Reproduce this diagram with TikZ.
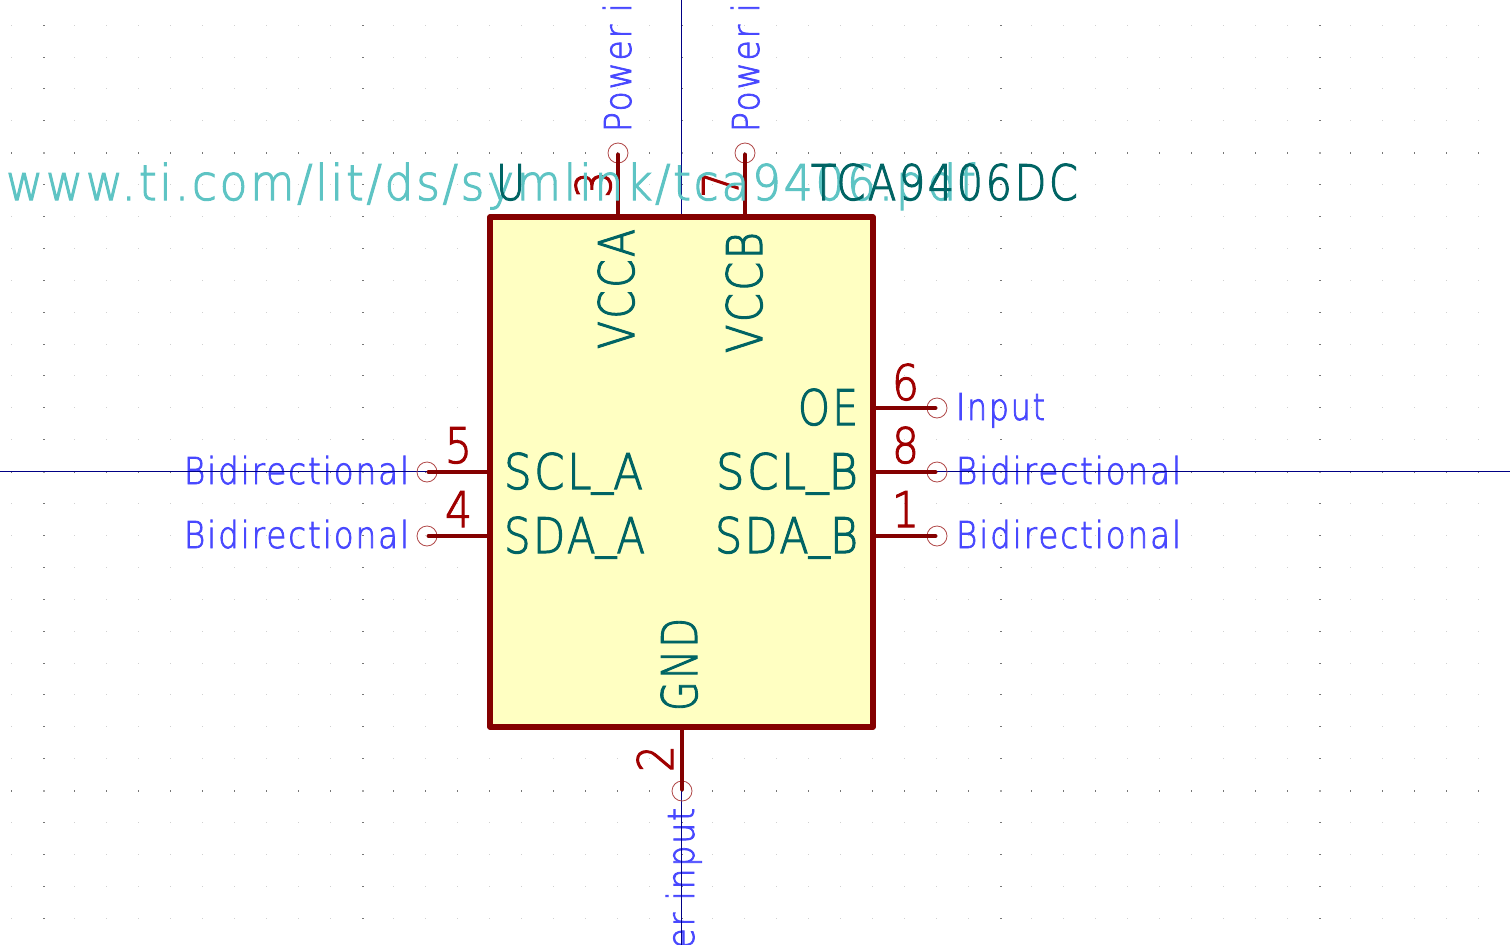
\documentclass[tikz,border=0pt]{standalone}
\usepackage{fontspec}
\usepackage{graphicx}
\newfontfamily\kf[FakeBold=2.2,LetterSpace=6]{DejaVu Sans ExtraLight}
\definecolor{pinred}{HTML}{840000}
\definecolor{numred}{HTML}{A00000}
\definecolor{endred}{HTML}{B04848}
\definecolor{boxfill}{HTML}{FFFFC2}
\definecolor{teal}{HTML}{006464}
\definecolor{urlteal}{HTML}{5EC4C4}
\definecolor{elec}{HTML}{4848FF}
\definecolor{axis}{HTML}{000084}
\definecolor{griddot}{HTML}{D0D0D0}
\definecolor{gridmajor}{HTML}{777777}
\newcommand\fitw[2]{\resizebox{#1pt}{\height}{#2}}
\newcommand\us{\raisebox{6pt}{\_}}
\tikzset{
  txt/.style={inner sep=0pt,outer sep=0pt,anchor=base west,font=\kf},
  big/.style={txt,font=\kf\fontsize{49}{49}\selectfont,text=teal},
  numb/.style={txt,font=\kf\fontsize{49}{49}\selectfont,text=numred},
  small/.style={txt,font=\kf\fontsize{37}{37}\selectfont,text=elec},
  urlt/.style={txt,font=\kf\fontsize{49}{49}\selectfont,text=urlteal},
  up/.style={rotate=90},
  pinend/.style={circle,draw=endred,line width=0.8pt,minimum size=20pt,inner sep=0pt,outer sep=0pt},
  pinline/.style={draw=pinred,line width=4pt,line cap=round,shorten <=1.5pt},
  body/.style={rectangle,draw=pinred,fill=boxfill,line width=5.4pt,line join=round,
    minimum width=383pt,minimum height=510pt,inner sep=0pt,outer sep=0pt},
  axisline/.style={draw=axis,line width=1pt},
}
\begin{document}
\begin{tikzpicture}[x=1pt,y=-1pt]
\useasboundingbox (0,0) rectangle (1510,945);
\clip (0,0) rectangle (1510,945);
\fill[white] (0,0) rectangle (1510,945);
% grid
\foreach \i in {0,...,46}{
  \pgfmathsetmacro\gx{floor(11.2+31.9*\i)}
  \pgfmathsetmacro\cm{mod(\i,10)==1?1:0}
  \foreach \j in {0,...,28}{
    \pgfmathsetmacro\gy{floor(25.1+31.9*\j)}
    \pgfmathsetmacro\rm{mod(\j,10)==4?1:0}
    \ifdim\cm pt>0.5pt
      \ifdim\rm pt>0.5pt
        \fill[gray!70] (\gx-0.5,\gy) rectangle (\gx+1.5,\gy+2);
      \else
        \fill[gridmajor] (\gx-0.5,\gy) rectangle (\gx+1.5,\gy+1);
      \fi
    \else
      \ifdim\rm pt>0.5pt
        \fill[gridmajor] (\gx,\gy) rectangle (\gx+1,\gy+2);
      \else
        \fill[griddot] (\gx,\gy) rectangle (\gx+1,\gy+1);
      \fi
    \fi
  }
}
% electrical type labels
\node[small,up] (t3) at (631,132) {\fitw{212}{Power input}};
\node[small,up] (t7) at (759,132) {\fitw{212}{Power input}};
\node[small,up,anchor=base east] (t2) at (694,808) {\fitw{212}{Power input}};
\node[small] (t6) at (956,420) {\fitw{89}{Input}};
\node[small] (t8) at (956,484) {\fitw{225}{Bidirectional}};
\node[small] (t1) at (956,548) {\fitw{225}{Bidirectional}};
\node[small] (t5) at (184,484) {\fitw{225}{Bidirectional}};
\node[small] (t4) at (184,548) {\fitw{225}{Bidirectional}};
% axes
\coordinate (axT) at (681.5,0);
\coordinate (axB) at (681.5,945);
\coordinate (axL) at (0,471.5);
\coordinate (axR) at (1510,471.5);
\draw[axisline] (axT) -- (axB);
\draw[axisline] (axL) -- (axR);
% body and pins
\node[body] (U) at (681.5,472) {};
\node[pinend] (p3) at (618,153) {};
\node[pinend] (p7) at (745,153) {};
\node[pinend] (p2) at (682,791) {};
\node[pinend] (p6) at (937,408) {};
\node[pinend] (p8) at (937,472) {};
\node[pinend] (p1) at (937,536) {};
\node[pinend] (p5) at (427,472) {};
\node[pinend] (p4) at (427,536) {};
\draw[pinline] (p3.center) -- (p3.center |- U.north);
\draw[pinline] (p7.center) -- (p7.center |- U.north);
\draw[pinline] (p2.center) -- (p2.center |- U.south);
\draw[pinline] (p6.center) -- (p6.center -| U.east);
\draw[pinline] (p8.center) -- (p8.center -| U.east);
\draw[pinline] (p1.center) -- (p1.center -| U.east);
\draw[pinline] (p5.center) -- (p5.center -| U.west);
\draw[pinline] (p4.center) -- (p4.center -| U.west);
% pin numbers
\node[numb] (n6) at (892,400) {\fitw{27}{6}};
\node[numb] (n8) at (892,463) {\fitw{27}{8}};
\node[numb] (n1) at (892,527) {\fitw{27}{1}};
\node[numb] (n5) at (445,463) {\fitw{27}{5}};
\node[numb] (n4) at (445,527) {\fitw{27}{4}};
\node[numb,up] (n2) at (673,772) {\fitw{27}{2}};
\node[numb,up] (n3) at (611,198) {\fitw{27}{3}};
\node[numb,up] (n7) at (738,198) {\fitw{27}{7}};
% pin names
\node[big,up] (VCCA) at (634,349) {\fitw{120}{VCCA}};
\node[big,up] (VCCB) at (762,353) {\fitw{121}{VCCB}};
\node[big,up] (GND) at (697,711) {\fitw{93}{GND}};
\node[big] (OE) at (798,425) {\fitw{60}{OE}};
\node[big] (SCLB) at (716,489) {\fitw{142}{SCL\us B}};
\node[big] (SDAB) at (715,553) {\fitw{143}{SDA\us B}};
\node[big] (SCLA) at (504,489) {\fitw{139}{SCL\us A}};
\node[big] (SDAA) at (504,553) {\fitw{141}{SDA\us A}};
% fields
\node[urlt] (url) at (6,200) {\fitw{969}{www.ti.com/lit/ds/symlink/tca9406.pdf}};
\node[big] (ref) at (496,200) {\fitw{29}{U}};
\node[big] (val) at (811,200) {\fitw{267}{TCA9406DC}};
\end{tikzpicture}
\end{document}
